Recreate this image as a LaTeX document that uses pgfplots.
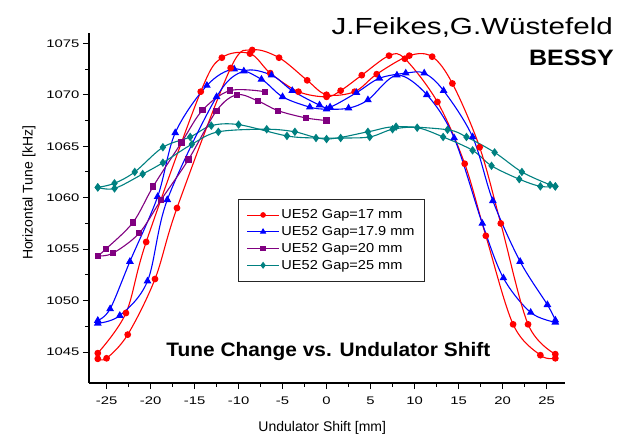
\documentclass[border=0pt]{standalone}
\usepackage{fontspec}
\setmainfont{Liberation Sans}
\usepackage{pgfplots}
\pgfplotsset{compat=1.18}

\definecolor{cred}{RGB}{255,0,0}
\definecolor{cblue}{RGB}{0,0,255}
\definecolor{cpurple}{RGB}{128,0,128}
\definecolor{cteal}{RGB}{0,128,128}

\begin{document}
\begin{tikzpicture}
\begin{axis}[
    name=ax,
    scale only axis,
    width=476pt, height=350pt,
    xmin=-27, xmax=27.1,
    ymin=1042, ymax=1076,
    axis x line=bottom, axis y line=left,
    axis line style={-, line width=1.6pt},
    tick align=outside,
    xtick={-25,-20,...,25},
    ytick={1045,1050,...,1075},
    minor x tick num=1, minor y tick num=1,
    major tick length=6pt, minor tick length=3.5pt,
    every tick/.style={black, line width=1pt},
    /pgf/number format/assume math mode=true,
    /pgf/number format/set thousands separator={},
    ticklabel style={font=\fontsize{11}{13}\selectfont\addfontfeatures{FakeStretch=1.35}},
    xticklabel style={yshift=-4pt},
    xlabel={Undulator Shift [mm]},
    ylabel={Horizontal Tune [kHz]},
    label style={font=\fontsize{14}{16}\selectfont},
    xlabel style={at={(rel axis cs:0.49,0)}, anchor=center, yshift=-45pt},
    ylabel style={at={(rel axis cs:0,0.543)}, anchor=center, yshift=60pt},
    every axis plot/.append style={smooth, tension=0.55, line width=1.1pt},
    clip=false,
    legend style={at={(0.3135,0.5265)}, anchor=north west, draw=black!85,
        line width=0.9pt,
        font=\fontsize{13}{15}\selectfont\addfontfeatures{FakeStretch=1.12},
        inner xsep=8pt, inner ysep=8.5pt, row sep=2.2pt, cells={anchor=west}},
    legend image code/.code={\draw[mark repeat=2,mark phase=2,#1]
        plot coordinates {(0pt,0pt) (16pt,0pt) (32pt,0pt)};},
    legend image post style={line width=0.8pt, mark options={scale=0.85}},
]
% Gap = 17 mm
\addplot[cred, mark=*, mark size=2.8pt] coordinates {
    (-26,1044.9) (-22.8,1048.8) (-20.5,1055.7) (-14.3,1070.3) (-11.9,1073.6)
    (-8.7,1074.0) (-6.4,1072.1) (-3.2,1070.3) (0,1069.8) (1.6,1070.4)
    (4.0,1071.9) (7.1,1073.8) (8.9,1073.5) (12.6,1069.3) (15.7,1063.3)
    (18.1,1056.3) (21.2,1047.7) (24.3,1044.7) (26,1044.4)
};
\addlegendentry{UE52 Gap=17 mm}
% Gap = 17.9 mm
\addplot[cblue, mark=triangle*, mark size=3.4pt] coordinates {
    (-26,1048.07) (-24.6,1049.2) (-22.35,1053.8) (-19.2,1060.1) (-17.2,1066.3)
    (-13.6,1070.9) (-10.5,1072.5) (-7.4,1071.5) (-5.0,1069.8) (-1.9,1068.8)
    (0,1068.6) (2.5,1068.7) (4.7,1069.5) (8.0,1071.9) (11.4,1070.0)
    (14.5,1065.8) (17.7,1057.5) (20.1,1052.2) (23.2,1048.85) (26,1047.9)
};
\addlegendentry{UE52 Gap=17.9 mm}
% Gap = 20 mm
\addplot[cpurple, mark=square*, mark size=2.6pt] coordinates {
    (-26,1054.35) (-25.1,1055.0) (-22.0,1057.6) (-19.7,1061.1) (-16.5,1065.35)
    (-14.1,1068.5) (-11.0,1070.4) (-7.0,1070.3)
};
\addlegendentry{UE52 Gap=20 mm}
% Gap = 25 mm
\addplot[cteal, mark=diamond*, mark size=3.4pt] coordinates {
    (-26,1061.0) (-24.1,1061.4) (-21.8,1062.5) (-18.6,1064.9) (-15.5,1065.9)
    (-13.1,1067.0) (-10.0,1067.1) (-4.5,1066.0) (-1.2,1065.8) (1.6,1065.8)
    (4.9,1065.9) (7.5,1066.65) (10.3,1066.8) (13.25,1065.9) (16.6,1064.6)
    (18.75,1063.1) (21.9,1061.8) (24.3,1061.1) (26,1061.1)
};
\addlegendentry{UE52 Gap=25 mm}

% second scans
\addplot[cred, mark=*, mark size=2.8pt, forget plot] coordinates {
    (-26,1044.35) (-25,1044.4) (-22.6,1046.7) (-19.5,1052.1) (-17,1059.0)
    (-10.9,1072.6) (-8.45,1074.35) (-5.4,1073.6) (-2.2,1071.4) (0,1070.0)
    (3.2,1070.3) (5.7,1072.0) (9.4,1073.8) (12.0,1073.7) (14.3,1071.1)
    (17.4,1064.9) (19.8,1057.5) (22.9,1047.7) (26,1044.8)
};
\addplot[cblue, mark=triangle*, mark size=3.4pt, forget plot] coordinates {
    (-26,1047.8) (-23.5,1048.55) (-20.35,1051.9) (-18.1,1059.8) (-12.5,1069.8)
    (-9.4,1072.3) (-6.25,1071.9) (-3.9,1070.4) (-0.8,1069.0) (0.4,1068.8)
    (3.4,1070.2) (6.0,1071.6) (9.0,1072.1) (11.1,1072.1) (13.3,1070.4)
    (16.6,1065.9) (18.9,1059.7) (22.0,1053.8) (25.1,1049.6) (26,1048.1)
};
\addplot[cpurple, mark=square*, mark size=2.6pt, forget plot] coordinates {
    (-26,1054.35) (-24.3,1054.6) (-21.3,1056.55) (-18.8,1059.8) (-15.7,1063.7)
    (-12.5,1068.45) (-10.2,1070.0) (-7.8,1069.4) (-5.5,1068.45) (-2.35,1067.75)
    (0,1067.5)
};
\addplot[cteal, mark=diamond*, mark size=3.4pt, forget plot] coordinates {
    (-26,1061.0) (-24.1,1060.9) (-20.9,1062.3) (-18.6,1063.4) (-15.3,1065.2)
    (-12.3,1066.4) (-6.8,1066.65) (-3.6,1066.4) (0,1065.7) (4.7,1066.4)
    (7.9,1066.9) (13.75,1066.6) (15.9,1065.9) (19.1,1064.4) (22.2,1062.5)
    (25.4,1061.25) (26,1061.1)
};

\node[anchor=base, font=\bfseries\fontsize{19.5}{21}\selectfont\addfontfeatures{FakeStretch=1.07}]
    at (axis cs:0.2,1044.57) {Tune Change vs. Undulator Shift};
\end{axis}

\node[anchor=base east, inner sep=0pt,
      font=\fontsize{23.3}{25}\selectfont\addfontfeatures{FakeStretch=1.27}]
    at ([xshift=48pt,yshift=-2pt]ax.north east) {J.Feikes,G.Wüstefeld};
\node[anchor=base east, inner sep=0pt,
      font=\bfseries\fontsize{22.3}{24}\selectfont\addfontfeatures{FakeStretch=1.12}]
    at ([xshift=49pt,yshift=-33pt]ax.north east) {BESSY};

\pgfresetboundingbox
\path[use as bounding box] ([xshift=-89pt,yshift=-53pt]ax.south west)
    rectangle ([xshift=53pt,yshift=33pt]ax.north east);
\end{tikzpicture}
\end{document}
